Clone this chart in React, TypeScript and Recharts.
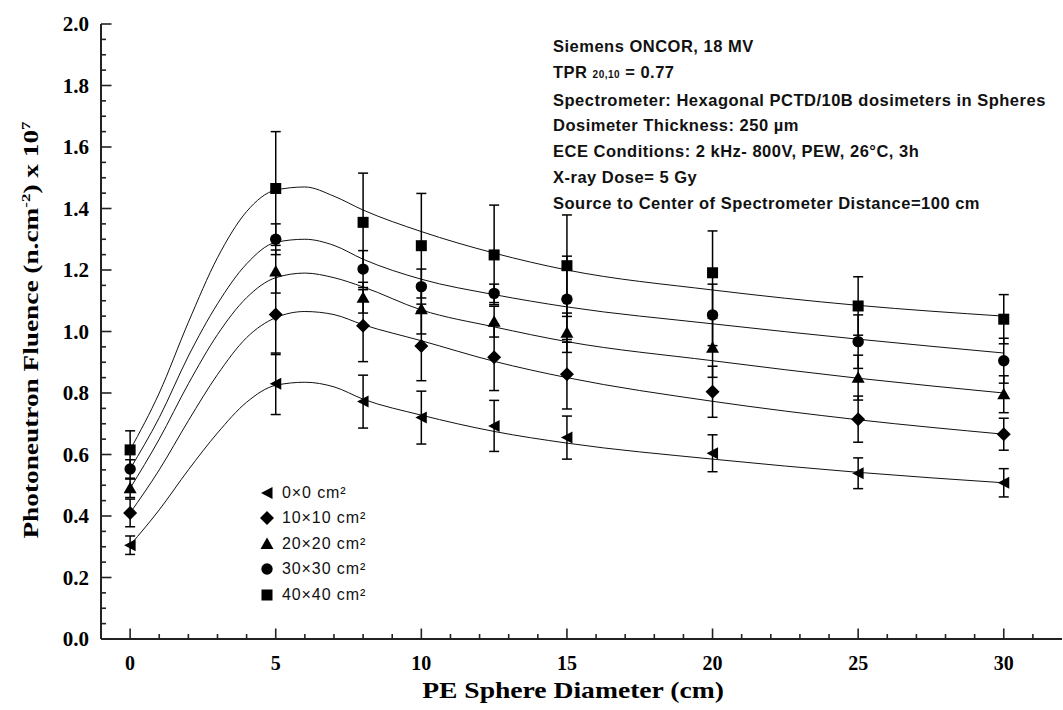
import React from "react";
import { ComposedChart, Line, Scatter, ErrorBar, XAxis, YAxis, Legend } from "recharts";

// PE sphere diameters (cm) where the fluence was measured
const sphereSizes = [0, 5, 8, 10, 12.5, 15, 20, 25, 30];
const fieldLabels = ["0×0 cm²", "10×10 cm²", "20×20 cm²", "30×30 cm²", "40×40 cm²"];

// photoneutron fluence (x 10^7 n.cm^-2) and its uncertainty, per field size
const fluence0 = [0.305, 0.83, 0.772, 0.72, 0.693, 0.655, 0.604, 0.539, 0.508];
const err0 = [0.03, 0.1, 0.086, 0.086, 0.083, 0.07, 0.06, 0.05, 0.046];
const fluence10 = [0.41, 1.055, 1.019, 0.953, 0.916, 0.861, 0.804, 0.715, 0.666];
const err10 = [0.045, 0.13, 0.117, 0.113, 0.108, 0.113, 0.083, 0.075, 0.052];
const fluence20 = [0.49, 1.195, 1.11, 1.072, 1.032, 0.996, 0.947, 0.85, 0.796];
const err20 = [0.03, 0.07, 0.05, 0.08, 0.05, 0.064, 0.096, 0.073, 0.06];
const fluence30 = [0.553, 1.3, 1.203, 1.146, 1.124, 1.105, 1.054, 0.967, 0.905];
const err30 = [0.03, 0.05, 0.06, 0.057, 0.03, 0.14, 0.1, 0.087, 0.073];
const fluence40 = [0.615, 1.465, 1.355, 1.279, 1.249, 1.214, 1.191, 1.083, 1.04];
const err40 = [0.062, 0.185, 0.16, 0.17, 0.162, 0.165, 0.136, 0.095, 0.08];

// fitted curves
const fitX = [0, 1, 2, 3, 4, 5, 6, 7, 8, 10, 12.5, 15, 20, 25, 30];
const fit0 = [0.305, 0.42, 0.55, 0.67, 0.77, 0.825, 0.835, 0.82, 0.78, 0.728, 0.675, 0.637, 0.585, 0.542, 0.508];
const fit10 = [0.41, 0.55, 0.71, 0.86, 0.98, 1.045, 1.065, 1.055, 1.022, 0.97, 0.903, 0.85, 0.773, 0.713, 0.666];
const fit20 = [0.49, 0.65, 0.83, 0.99, 1.11, 1.175, 1.19, 1.175, 1.145, 1.07, 1.015, 0.967, 0.905, 0.848, 0.8];
const fit30 = [0.553, 0.72, 0.92, 1.09, 1.22, 1.29, 1.3, 1.28, 1.235, 1.17, 1.12, 1.08, 1.025, 0.975, 0.93];
const fit40 = [0.615, 0.8, 1.03, 1.24, 1.39, 1.46, 1.47, 1.44, 1.395, 1.325, 1.255, 1.2, 1.135, 1.085, 1.05];

const xTicks = [0, 1, 2, 3, 4, 5, 6, 7, 8, 9, 10, 11, 12, 13, 14, 15, 16, 17, 18, 19, 20, 21, 22, 23, 24, 25, 26, 27, 28, 29, 30, 31];
const yTicks = [
  0, 0.05, 0.1, 0.15, 0.2, 0.25, 0.3, 0.35, 0.4, 0.45, 0.5, 0.55, 0.6, 0.65, 0.7, 0.75, 0.8, 0.85, 0.9, 0.95, 1.0,
  1.05, 1.1, 1.15, 1.2, 1.25, 1.3, 1.35, 1.4, 1.45, 1.5, 1.55, 1.6, 1.65, 1.7, 1.75, 1.8, 1.85, 1.9, 1.95, 2.0,
];

const notes = [
  "Siemens ONCOR, 18 MV",
  "TPR",
  "Spectrometer: Hexagonal PCTD/10B dosimeters in Spheres",
  "Dosimeter Thickness: 250 µm",
  "ECE Conditions: 2 kHz- 800V, PEW, 26°C, 3h",
  "X-ray Dose= 5 Gy",
  "Source to Center of Spectrometer Distance=100 cm",
];

const INK = "#000";
const AXIS = "#222";
const SERIF = "'Liberation Serif', 'Times New Roman', serif";
const SANS = "'Liberation Sans', Arial, sans-serif";

const toPoints = (ys: number[], errs: number[]) =>
  sphereSizes.map((x, i) => ({ x, y: ys[i], err: errs[i] }));
const toFit = (ys: number[]) => fitX.map((x, i) => ({ x, y: ys[i] }));

type MarkerKind = "left" | "diamond" | "up" | "circle" | "square";
const markerKinds: MarkerKind[] = ["left", "diamond", "up", "circle", "square"];

function marker(kind: MarkerKind, cx: number, cy: number) {
  switch (kind) {
    case "left":
      return <polygon points={`${cx - 6},${cy} ${cx + 5.5},${cy - 6} ${cx + 5.5},${cy + 6}`} fill={INK} />;
    case "diamond":
      return <polygon points={`${cx},${cy - 7} ${cx + 7},${cy} ${cx},${cy + 7} ${cx - 7},${cy}`} fill={INK} />;
    case "up":
      return <polygon points={`${cx},${cy - 6.5} ${cx + 6.5},${cy + 5} ${cx - 6.5},${cy + 5}`} fill={INK} />;
    case "circle":
      return <circle cx={cx} cy={cy} r={5.7} fill={INK} />;
    default:
      return <rect x={cx - 5.5} y={cy - 5.5} width={11} height={11} fill={INK} />;
  }
}

const shapeFor = (kind: MarkerKind) => (p: any) => <g>{marker(kind, p.cx, p.cy)}</g>;

const isMajorX = (v: number) => v % 5 === 0;
const isMajorY = (v: number) => Math.abs(v * 5 - Math.round(v * 5)) < 1e-6;

function BottomTick({ x, y, payload }: any) {
  const major = isMajorX(payload.value);
  return (
    <g>
      <line x1={x} x2={x} y1={y} y2={y - (major ? 10.5 : 5)} stroke={AXIS} strokeWidth={1.6} />
      {major && (
        <text x={x} y={y + 31} textAnchor="middle" fontFamily={SERIF} fontWeight="bold" fontSize={20} fill={INK}>
          {payload.value}
        </text>
      )}
    </g>
  );
}

function TopTick({ x, y, payload }: any) {
  const major = isMajorX(payload.value);
  return <line x1={x} x2={x} y1={y} y2={y + (major ? 10.5 : 5)} stroke={AXIS} strokeWidth={1.6} />;
}

function LeftTick({ x, y, payload }: any) {
  const major = isMajorY(payload.value);
  return (
    <g>
      <line x1={x} x2={x + (major ? 10.5 : 5)} y1={y} y2={y} stroke={AXIS} strokeWidth={1.6} />
      {major && (
        <text x={x - 12} y={y + 7} textAnchor="end" fontFamily={SERIF} fontWeight="bold" fontSize={21} fill={INK}>
          {payload.value.toFixed(1)}
        </text>
      )}
    </g>
  );
}

function RightTick({ x, y, payload }: any) {
  const major = isMajorY(payload.value);
  return <line x1={x} x2={x - (major ? 10.5 : 5)} y1={y} y2={y} stroke={AXIS} strokeWidth={1.6} />;
}

function FieldLegend({ payload }: any) {
  const items = (payload ?? [])
    .filter((item: any) => fieldLabels.includes(item.value))
    .sort((a: any, b: any) => fieldLabels.indexOf(a.value) - fieldLabels.indexOf(b.value));
  return (
    <div>
      {items.map((item: any) => {
        const kind = markerKinds[fieldLabels.indexOf(item.value)];
        return (
          <div key={item.value} style={{ display: "flex", alignItems: "center", height: 25.5 }}>
            <svg width={16} height={16} style={{ marginRight: 7 }}>
              {marker(kind, 8, 8)}
            </svg>
            <span style={{ fontFamily: SANS, fontSize: 16, color: "#111", letterSpacing: 0.9 }}>
              {item.value}
            </span>
          </div>
        );
      })}
    </div>
  );
}

export default function App() {
  const series = [
    { ys: fluence0, errs: err0, fit: fit0 },
    { ys: fluence10, errs: err10, fit: fit10 },
    { ys: fluence20, errs: err20, fit: fit20 },
    { ys: fluence30, errs: err30, fit: fit30 },
    { ys: fluence40, errs: err40, fit: fit40 },
  ];

  return (
    <div style={{ position: "absolute", left: 0, top: 0, width: 1063, height: 710, background: "#fff" }}>
      <ComposedChart width={1063} height={710} margin={{ top: 24, right: 1, bottom: 0, left: 0 }}>
        <XAxis
          dataKey="x"
          type="number"
          domain={[-1, 32]}
          allowDataOverflow
          ticks={xTicks}
          interval={0}
          tickSize={0}
          tickMargin={0}
          tick={BottomTick}
          height={71}
          axisLine={{ stroke: AXIS, strokeWidth: 2 }}
        />
        <XAxis
          xAxisId="top"
          orientation="top"
          type="number"
          domain={[-1, 31]}
          allowDataOverflow
          ticks={xTicks.slice(0, 31)}
          interval={0}
          tickSize={0}
          tickMargin={0}
          tick={TopTick}
          height={0}
          axisLine={{ stroke: AXIS, strokeWidth: 2 }}
        />
        <YAxis
          type="number"
          domain={[0, 2]}
          allowDataOverflow
          ticks={yTicks}
          interval={0}
          tickSize={0}
          tickMargin={0}
          tick={LeftTick}
          width={101}
          axisLine={{ stroke: AXIS, strokeWidth: 2 }}
        />
        <YAxis
          yAxisId="right"
          orientation="right"
          type="number"
          domain={[0, 2]}
          allowDataOverflow
          ticks={yTicks}
          interval={0}
          tickSize={0}
          tickMargin={0}
          tick={RightTick}
          width={0}
          axisLine={{ stroke: AXIS, strokeWidth: 2 }}
        />
        {series.map((s, i) => (
          <Line
            key={`fit-${i}`}
            name={`fit ${fieldLabels[i]}`}
            data={toFit(s.fit)}
            dataKey="y"
            type="monotone"
            stroke="#111"
            strokeWidth={1}
            dot={false}
            activeDot={false}
            legendType="none"
            isAnimationActive={false}
          />
        ))}
        {series.map((s, i) => (
          <Scatter
            key={`pts-${i}`}
            name={fieldLabels[i]}
            data={toPoints(s.ys, s.errs)}
            dataKey="y"
            fill={INK}
            shape={shapeFor(markerKinds[i])}
            isAnimationActive={false}
          >
            <ErrorBar dataKey="err" direction="y" width={5} stroke={INK} strokeWidth={1.5} isAnimationActive={false} />
          </Scatter>
        ))}
        <Legend
          layout="horizontal"
          verticalAlign="middle"
          align="center"
          content={FieldLegend}
          wrapperStyle={{ left: 259, top: 480, width: 170, height: 130 }}
        />
      </ComposedChart>

      <div
        style={{
          position: "absolute",
          left: 553,
          top: 34,
          fontFamily: SANS,
          fontWeight: "bold",
          fontSize: 16.5,
          letterSpacing: 0.5,
          color: "#111",
          lineHeight: "25.8px",
          whiteSpace: "nowrap",
        }}
      >
        {notes.map((n) =>
          n === "TPR" ? (
            <div key={n}>
              TPR <span style={{ fontSize: 10, fontWeight: "bold" }}>20,10</span> = 0.77
            </div>
          ) : (
            <div key={n}>{n}</div>
          )
        )}
      </div>

      <div
        style={{
          position: "absolute",
          left: 31,
          top: 330,
          transform: "translate(-50%, -50%) rotate(-90deg) scaleX(1.3)",
          fontFamily: SERIF,
          fontWeight: "bold",
          fontSize: 21,
          whiteSpace: "nowrap",
          color: INK,
        }}
      >
        Photoneutron Fluence (n.cm<sup style={{ fontSize: 13 }}>-2</sup>) x 10<sup style={{ fontSize: 13 }}>7</sup>
      </div>

      <div
        style={{
          position: "absolute",
          left: 573,
          top: 690,
          transform: "translate(-50%, -50%) scaleX(1.15)",
          fontFamily: SERIF,
          fontWeight: "bold",
          fontSize: 24,
          whiteSpace: "nowrap",
          color: INK,
        }}
      >
        PE Sphere Diameter (cm)
      </div>
    </div>
  );
}
